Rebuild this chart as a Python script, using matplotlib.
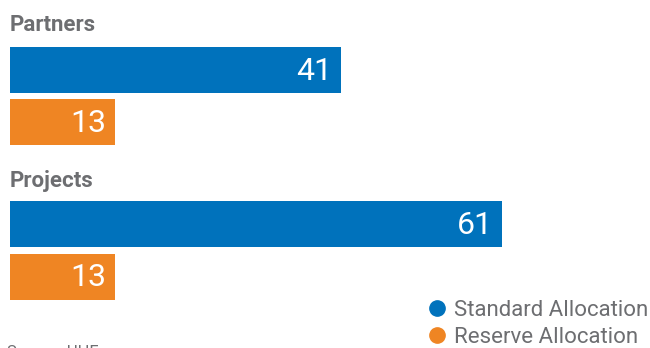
import matplotlib.pyplot as plt
from matplotlib.lines import Line2D

groups = ['Partners', 'Projects']
standard = [41, 61]
reserve = [13, 13]
series_names = ['Standard Allocation', 'Reserve Allocation']
colors = ['#0072bc', '#ef8523']
grey = '#6d6e71'

plt.rcParams['font.family'] = ['Roboto', 'DejaVu Sans']

fig = plt.figure(figsize=(6.5, 3.48), dpi=100)
ax = fig.add_axes([10 / 650, 0, 640 / 650, 1])
px_per_unit = 8.07
ax.set_xlim(0, 640 / px_per_unit)
ax.set_ylim(348, 0)
ax.axis('off')

title_y = [25, 181]
blue_y = [70, 224]
orange_y = [122, 277]
bar_h = 46

for i, g in enumerate(groups):
    ax.text(0, title_y[i], g, fontsize=16, fontweight='bold', color=grey,
            va='center', ha='left')
    for y, v, c in [(blue_y[i], standard[i], colors[0]), (orange_y[i], reserve[i], colors[1])]:
        ax.barh(y, v, height=bar_h, color=c)
        ax.text(v - 9 / px_per_unit, y + 1, str(v), fontsize=23, fontweight='normal',
                color='white', va='center', ha='right')

handles = [Line2D([], [], marker='o', linestyle='none', markersize=11,
                  markerfacecolor=c, markeredgecolor=c) for c in colors]
fig.legend(handles, series_names, loc='lower right', bbox_to_anchor=(1.028, -0.058),
           frameon=False, fontsize=16, labelcolor=grey, handletextpad=0.15,
           labelspacing=0.3, handlelength=1.2)

fig.text(7 / 650, -12 / 348, 'Source: UHF', fontsize=12, color=grey, va='bottom', ha='left')

fig.savefig('out.png', dpi=100)
